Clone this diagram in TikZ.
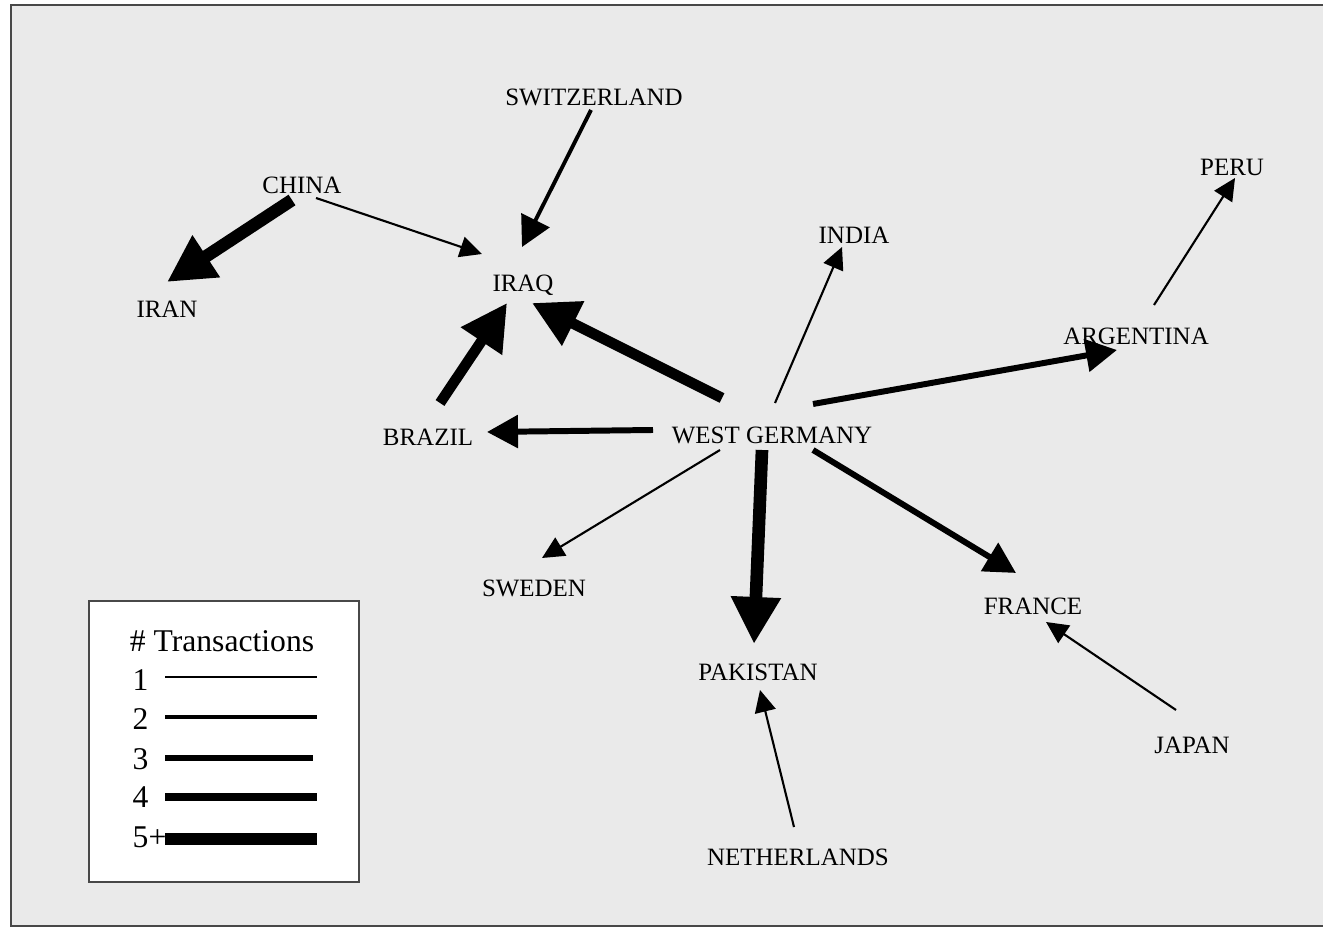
\documentclass[tikz,border=0pt]{standalone}
\usepackage{fontspec}
\setmainfont{Liberation Serif}
\usetikzlibrary{arrows.meta, positioning}
\definecolor{panelgray}{RGB}{234,234,234}
\definecolor{framegray}{RGB}{72,72,72}
\tikzstyle{country} = [inner sep=0pt, text height=4.7pt, text depth=0pt, font=\fontsize{7.1}{8.5}\selectfont]
\tikzstyle{keytext} = [inner sep=0pt, font=\fontsize{9}{10.8}\selectfont]
\tikzstyle{one} = [line width=0.6pt, -{Triangle[length=0.22cm, width=0.21cm]}]
\tikzstyle{two} = [line width=1.1pt, -{Triangle[length=0.30cm, width=0.31cm]}]
\tikzstyle{three} = [line width=1.7pt, -{Triangle[length=0.31cm, width=0.32cm]}]
\tikzstyle{four} = [line width=3.0pt, -{Triangle[length=0.46cm, width=0.47cm]}]
\tikzstyle{five} = [line width=3.6pt, -{Triangle[length=0.47cm, width=0.47cm]}]

\begin{document}
\begin{tikzpicture}
			\useasboundingbox (0,0) rectangle (13.23,-9.28);
			\clip (0,0) rectangle (13.23,-9.28);
			\fill[white] (0,0) rectangle (13.23,-9.28);
			\draw[framegray, line width=0.6pt, fill=panelgray] (0.11,-0.05) rectangle (13.6,-9.26);
			
			\node (wg) [country] at (7.72,-4.35) {WEST GERMANY};
			\node (swit) [country] at (5.94,-0.97) {SWITZERLAND};
			\node (china) [country] at (3.02,-1.85) {CHINA};
			\node (iran) [country] at (1.67,-3.09) {IRAN};
			\node (iraq) [country] at (5.23,-2.83) {IRAQ};
			\node (india) [country] at (8.54,-2.35) {INDIA};
			\node (peru) [country] at (12.32,-1.67) {PERU};
			\node (arg) [country] at (11.36,-3.36) {ARGENTINA};
			\node (brazil) [country] at (4.28,-4.37) {BRAZIL};
			\node (sweden) [country] at (5.34,-5.88) {SWEDEN};
			\node (france) [country] at (10.33,-6.06) {FRANCE};
			\node (pak) [country] at (7.58,-6.72) {PAKISTAN};
			\node (japan) [country] at (11.92,-7.45) {JAPAN};
			\node (neth) [country] at (7.98,-8.57) {NETHERLANDS};
			
			\draw [two] ([shift={(-0.03,-0.13)}]swit.center) -- ([shift={(-0.01,0.36)}]iraq.center);
			\draw [five] ([shift={(-0.10,-0.15)}]china.center) -- ([shift={(0,0.27)}]iran.center);
			\draw [one] ([shift={(0.14,-0.13)}]china.center) -- ([shift={(-0.41,0.29)}]iraq.center);
			\draw [four] ([shift={(0.12,0.34)}]brazil.center) -- ([shift={(-0.16,-0.20)}]iraq.center);
			\draw [four] ([shift={(-0.50,0.37)}]wg.center) -- ([shift={(0.09,-0.20)}]iraq.center);
			\draw [three] ([shift={(-1.19,0.05)}]wg.center) -- ([shift={(0.59,0.05)}]brazil.center);
			\draw [one] ([shift={(0.03,0.32)}]wg.center) -- ([shift={(-0.12,-0.12)}]india.center);
			\draw [three] ([shift={(0.41,0.31)}]wg.center) -- ([shift={(-0.19,-0.14)}]arg.center);
			\draw [one] ([shift={(0.18,0.31)}]arg.center) -- ([shift={(0.03,-0.11)}]peru.center);
			\draw [one] ([shift={(-0.52,-0.15)}]wg.center) -- ([shift={(0.08,0.30)}]sweden.center);
			\draw [five] ([shift={(-0.10,-0.15)}]wg.center) -- ([shift={(-0.04,0.28)}]pak.center);
			\draw [three] ([shift={(0.41,-0.15)}]wg.center) -- ([shift={(-0.17,0.33)}]france.center);
			\draw [one] ([shift={(-0.16,0.35)}]japan.center) -- ([shift={(0.13,-0.16)}]france.center);
			\draw [one] ([shift={(-0.04,0.30)}]neth.center) -- ([shift={(0.02,-0.18)}]pak.center);
			
			\draw[framegray, line width=0.5pt, fill=white] (0.89,-6.01) rectangle (3.59,-8.82);
			\node (keytitle) [keytext] at (2.22,-6.41) {\# Transactions};
			\node (k1) [keytext, anchor=west] at (1.32,-6.80) {1};
			\node (k2) [keytext, anchor=west] at (1.32,-7.19) {2};
			\node (k3) [keytext, anchor=west] at (1.32,-7.59) {3};
			\node (k4) [keytext, anchor=west] at (1.32,-7.97) {4};
			\node (k5) [keytext, anchor=west] at (1.32,-8.37) {5+};
			\draw [one, -] (1.65,-6.77) -- (3.17,-6.77);
			\draw [two, -] (1.65,-7.17) -- (3.17,-7.17);
			\draw [three, -] (1.65,-7.58) -- (3.13,-7.58);
			\draw [line width=2.4pt] (1.65,-7.97) -- (3.17,-7.97);
			\draw [line width=3.2pt] (1.65,-8.39) -- (3.17,-8.39);
\end{tikzpicture}
\end{document}
